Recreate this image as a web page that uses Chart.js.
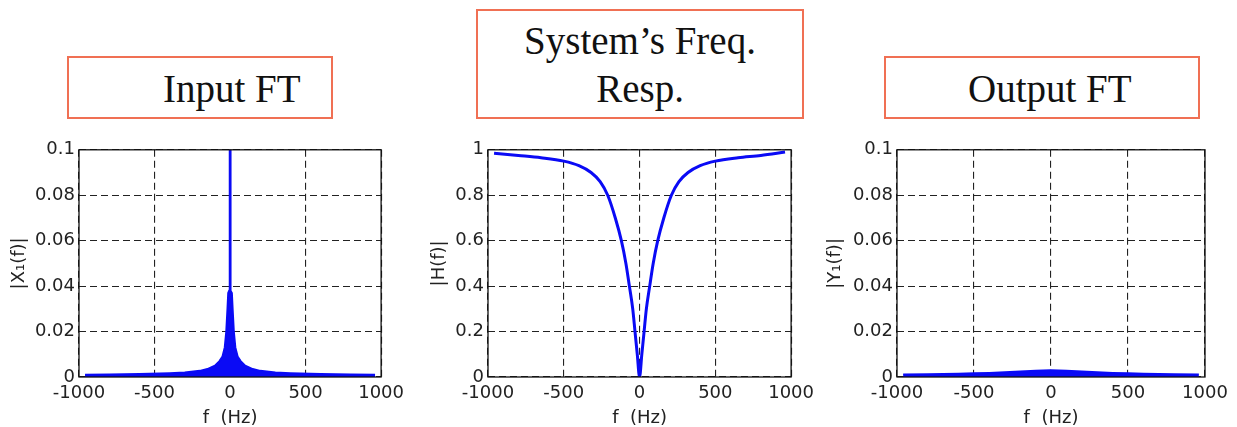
<!DOCTYPE html>
<html>
<head>
<meta charset="utf-8">
<script src="https://cdn.jsdelivr.net/npm/chart.js@4/dist/chart.umd.min.js"></script>
<style>
  html, body { margin: 0; padding: 0; background: #fff; }
  body { width: 1237px; height: 427px; position: relative; overflow: hidden; }
  .box { position: absolute; border: 2px solid rgb(240,112,84); box-sizing: border-box; }
  .lbl { position: absolute; font-family: "Liberation Serif", "Times New Roman", serif; font-size: 39px; line-height: 48px; color: #111; white-space: nowrap; }
  canvas { position: absolute; }
</style>
</head>
<body>
<div class="box" style="left:67px;top:56px;width:266px;height:63px;"></div>
<div class="lbl" style="left:163px;top:65px;">Input FT</div>

<div class="box" style="left:476px;top:9px;width:328px;height:110px;"></div>
<div class="lbl" style="left:476px;width:328px;text-align:center;top:17px;">System’s Freq.</div>
<div class="lbl" style="left:476px;width:328px;text-align:center;top:65px;">Resp.</div>

<div class="box" style="left:884px;top:56px;width:316px;height:63px;"></div>
<div class="lbl" style="left:968px;top:65px;">Output FT</div>

<canvas id="inputft" width="410" height="296" style="left:0px;top:135px;"></canvas>
<canvas id="sysresp" width="400" height="296" style="left:420px;top:135px;"></canvas>
<canvas id="outputft" width="412" height="296" style="left:825px;top:135px;"></canvas>

<script>
// values (upper envelope of the spectra)
var inFreq = [-960, -800, -600, -400, -300, -200, -150, -100, -70, -50, -35, -25, -17, -12, -6, -3, -1, 0, 1, 3, 6, 12, 17, 25, 35, 50, 70, 100, 150, 200, 300, 400, 600, 800, 960];
var inMag  = [0.0010, 0.0011, 0.0013, 0.0017, 0.0020, 0.0027, 0.0035, 0.0050, 0.0070, 0.0090, 0.0130, 0.0200, 0.0300, 0.0370, 0.0380, 0.0600, 0.1000, 0.1000, 0.1000, 0.0600, 0.0380, 0.0370, 0.0300, 0.0200, 0.0130, 0.0090, 0.0070, 0.0050, 0.0035, 0.0027, 0.0020, 0.0017, 0.0013, 0.0011, 0.0010];

var hFreq = [-960, -800, -650, -500, -400, -320, -260, -210, -160, -120, -90, -67, -45, -30, -15, 0, 15, 30, 45, 67, 90, 120, 160, 210, 260, 320, 400, 500, 650, 800, 960];
var hMag  = [0.985, 0.975, 0.965, 0.950, 0.930, 0.900, 0.860, 0.800, 0.700, 0.600, 0.500, 0.400, 0.300, 0.200, 0.100, 0.000, 0.100, 0.200, 0.300, 0.400, 0.500, 0.600, 0.700, 0.800, 0.860, 0.900, 0.930, 0.950, 0.965, 0.975, 0.990];

var outFreq = [-960, -800, -600, -500, -400, -300, -200, -100, -50, 0, 50, 100, 200, 300, 400, 500, 600, 800, 960];
var outMag  = [0.0011, 0.0012, 0.0014, 0.0016, 0.0018, 0.0021, 0.0024, 0.0027, 0.0029, 0.0030, 0.0029, 0.0027, 0.0024, 0.0021, 0.0018, 0.0016, 0.0014, 0.0012, 0.0011];

var xTicks = [-1000, -500, 0, 500, 1000];

function pts(xs, ys) {
    var out = [];
    for (var i = 0; i < xs.length; i++) {
        out.push({x: xs[i], y: ys[i]});
    }
    return out;
}

var boxPlugin = {
    id: 'matlabBox',
    afterDraw: function (chart) {
        var a = chart.chartArea;
        var ctx = chart.ctx;
        ctx.save();
        ctx.strokeStyle = '#111';
        ctx.lineWidth = 1.3;
        ctx.setLineDash([]);
        ctx.strokeRect(a.left, a.top, a.right - a.left, a.bottom - a.top);
        ctx.restore();
    }
};

var tickFont = {family: '"DejaVu Sans", Arial, sans-serif', size: 18};

function makeChart(id, data, yMax, yStep, yTitle, yAxisW, padRight, titlePad, filled, lw) {
    var ctx = document.getElementById(id).getContext('2d');
    return new Chart(ctx, {
        type: 'line',
        data: {
            datasets: [{
                data: data,
                borderColor: 'rgb(10,10,245)',
                backgroundColor: 'rgb(10,10,245)',
                borderWidth: lw,
                pointRadius: 0,
                fill: filled ? 'origin' : false,
                cubicInterpolationMode: filled ? 'default' : 'monotone',
                tension: 0
            }]
        },
        options: {
            responsive: false,
            animation: false,
            devicePixelRatio: 1,
            layout: {padding: {top: 12, right: padRight, left: 0, bottom: 0}},
            plugins: {legend: {display: false}, tooltip: {enabled: false}},
            scales: {
                x: {
                    type: 'linear',
                    min: -1000, max: 1000,
                    afterBuildTicks: function (axis) {
                        axis.ticks = xTicks.map(function (v) { return {value: v}; });
                    },
                    afterFit: function (axis) { axis.height = 54; },
                    grid: {color: '#222', lineWidth: 1.1, drawTicks: false},
                    border: {display: false, dash: [7, 4]},
                    ticks: {
                        font: tickFont, color: '#222', padding: 6, maxRotation: 0,
                        callback: function (v) { return String(v); }
                    },
                    title: {display: true, text: 'f  (Hz)', font: tickFont, color: '#222', padding: {top: 0, bottom: 2}}
                },
                y: {
                    min: 0, max: yMax,
                    ticks: {
                        stepSize: yStep,
                        font: tickFont, color: '#222', padding: 4,
                        callback: function (v) { return String(+v.toFixed(3)); }
                    },
                    afterFit: function (axis) { axis.width = yAxisW; },
                    grid: {color: '#222', lineWidth: 1.1, drawTicks: false},
                    border: {display: false, dash: [7, 4]},
                    title: {display: true, text: yTitle, font: tickFont, color: '#222', padding: {top: titlePad, bottom: 0}}
                }
            }
        },
        plugins: [boxPlugin]
    });
}

makeChart('inputft', pts(inFreq, inMag), 0.1, 0.02, '|X\u2081(f)|', 79, 22, 9, true, 2);
makeChart('sysresp', pts(hFreq, hMag), 1, 0.2, '|H(f)|', 68, 22, 9, false, 3);
makeChart('outputft', pts(outFreq, outMag), 0.1, 0.02, '|Y\u2081(f)|', 72, 32, 0, true, 2);
</script>
</body>
</html>
